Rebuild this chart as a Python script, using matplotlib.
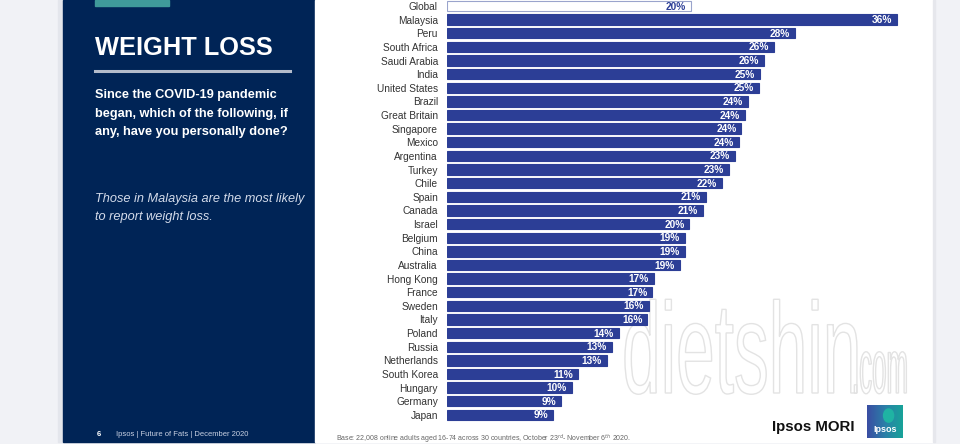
import numpy as np
import matplotlib
matplotlib.use('Agg')
import matplotlib.pyplot as plt
from matplotlib.patches import Rectangle, PathPatch
from matplotlib.textpath import TextPath
from matplotlib.font_manager import FontProperties
from matplotlib.transforms import Affine2D

plt.rcParams['font.family'] = ['Liberation Sans', 'DejaVu Sans']

countries = ['Global', 'Malaysia', 'Peru', 'South Africa', 'Saudi Arabia', 'India',
             'United States', 'Brazil', 'Great Britain', 'Singapore', 'Mexico',
             'Argentina', 'Turkey', 'Chile', 'Spain', 'Canada', 'Israel', 'Belgium',
             'China', 'Australia', 'Hong Kong', 'France', 'Sweden', 'Italy', 'Poland',
             'Russia', 'Netherlands', 'South Korea', 'Hungary', 'Germany', 'Japan']
values = [19.7, 36.4, 28.1, 26.4, 25.6, 25.3, 25.2, 24.3, 24.1, 23.8, 23.6,
          23.3, 22.8, 22.2, 20.9, 20.7, 19.6, 19.2, 19.2, 18.8, 16.7, 16.6,
          16.3, 16.2, 13.9, 13.3, 12.9, 10.6, 10.1, 9.2, 8.6]
labels = ['20%', '36%', '28%', '26%', '26%', '25%', '25%', '24%', '24%', '24%', '24%',
          '23%', '23%', '22%', '21%', '21%', '20%', '19%', '19%', '19%', '17%', '17%',
          '16%', '16%', '14%', '13%', '13%', '11%', '10%', '9%', '9%']

W, H = 960, 444
NAVY = '#002456'
BAR = '#2c3e96'

fig = plt.figure(figsize=(W / 100, H / 100), dpi=100, facecolor='#f1f2f6')


def px(x0, y0, w, h):
    # pixel box (top-left origin) -> figure fraction
    return [x0 / W, 1 - (y0 + h) / H, w / W, h / H]


# slide background pieces
bg = fig.add_axes([0, 0, 1, 1])
bg.set_xlim(0, W)
bg.set_ylim(H, 0)
bg.axis('off')
bg.add_patch(Rectangle((58, 0), 5, 442, color='#e4e6ec'))
bg.add_patch(Rectangle((63, 0), 252, 442, color=NAVY))
bg.add_patch(Rectangle((315, 0), 618, 442, color='white'))
bg.add_patch(Rectangle((933, 0), 2, 442, color='#e6e7ec'))
bg.add_patch(Rectangle((95, 0), 74, 6, color='#3f9a9a'))
bg.plot([95, 290], [71, 71], color='#b4bccb', lw=2.2)

bg.text(95, 48, 'WEIGHT LOSS', color='white', fontsize=18.3, fontweight='bold',
        va='center', ha='left')
question = ['Since the COVID-19 pandemic', 'began, which of the following, if',
            'any, have you personally done?']
for i, line in enumerate(question):
    bg.text(95, 95 + 18.5 * i, line, color='white', fontsize=9.2, fontweight='bold',
            va='center', ha='left')
bg.text(95, 199, 'Those in Malaysia are the most likely', color='#d4dbea',
        fontsize=9.2, style='italic', va='center', ha='left')
bg.text(95, 217, 'to report weight loss.', color='#d4dbea',
        fontsize=9.2, style='italic', va='center', ha='left')
bg.text(97, 434, '6', color='white', fontsize=5.5, fontweight='bold', va='center')
bg.text(116, 434, 'Ipsos | Future of Fats | December 2020', color='#c8d0e2',
        fontsize=5.5, va='center')
bg.text(336, 438.5, 'Base: 22,008 online adults aged 16-74 across 30 countries, '
        'October 23$^{rd}$- November 6$^{th}$ 2020.', color='#666666',
        fontsize=5, va='center')

# watermark, tall and narrow
wm = TextPath((0, 0), 'dietshin', size=10,
              prop=FontProperties(family='Liberation Sans'))
wm2 = TextPath((0, 0), '.com', size=10,
               prop=FontProperties(family='Liberation Sans'))
ext = wm.get_extents()
sx = 232 / ext.width
sy = -95 / ext.height
bg.add_patch(PathPatch(wm, transform=Affine2D().scale(sx, sy).translate(622, 393)
                       + bg.transData, facecolor='white', edgecolor='#dedede',
                       lw=1.0, alpha=0.85, zorder=5))
ext2 = wm2.get_extents()
bg.add_patch(PathPatch(wm2, transform=Affine2D().scale(52 / ext2.width, -42 / ext2.height)
                       .translate(852, 393) + bg.transData, facecolor='white',
                       edgecolor='#dedede', lw=1.0, alpha=0.85, zorder=5))

# Ipsos MORI logo
bg.text(855, 427, 'Ipsos MORI', color='#111111', fontsize=10.8,
        fontweight='bold', ha='right', va='center')
logo = fig.add_axes(px(867, 405, 36, 33))
grad = np.linspace(0, 1, 50)[None, :]
logo.imshow(grad, cmap=matplotlib.colors.LinearSegmentedColormap.from_list(
    'ip', ['#3a4ea3', '#2b7fa8', '#17a399']), aspect='auto', extent=[0, 1, 0, 1])
logo.add_patch(matplotlib.patches.Ellipse((0.6, 0.68), 0.28, 0.4, color='#1fb3a3'))
logo.text(0.5, 0.25, 'Ipsos', color='white', fontsize=6.5, fontweight='bold',
          ha='center', va='center')
logo.set_xlim(0, 1)
logo.set_ylim(0, 1)
logo.axis('off')

# bar chart
row = 13.63
scale = 12.37
n = len(countries)
top = 6 - row / 2
ax = fig.add_axes(px(447, top, 38 * scale, n * row))
ax.set_xlim(0, 38)
ax.set_ylim(n - 0.5, -0.5)
ax.patch.set_alpha(0)
y = np.arange(n)
colors = ['white'] + [BAR] * (n - 1)
edges = ['#9aa4cc'] + [BAR] * (n - 1)
ax.barh(y, values, height=0.76, color=colors, edgecolor=edges, linewidth=0.8)
for i, (v, lab) in enumerate(zip(values, labels)):
    ax.text(v - 0.4, i + 0.04, lab, ha='right', va='center', fontsize=7.3,
            fontweight='bold', color=BAR if i == 0 else 'white')
ax.set_yticks(y)
ax.set_yticklabels(countries, fontsize=7.3, color='#333333')
ax.tick_params(axis='y', length=0, pad=6.5)
ax.set_xticks([])
for s in ax.spines.values():
    s.set_visible(False)

fig.savefig('out.png', dpi=100, facecolor=fig.get_facecolor())
